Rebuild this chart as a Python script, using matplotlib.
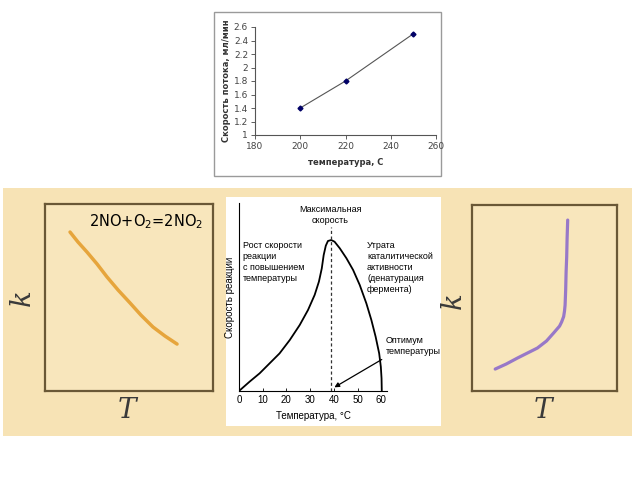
import numpy as np
import matplotlib
matplotlib.use('Agg')
import matplotlib.pyplot as plt
from matplotlib.patches import Rectangle

# Top chart: flow rate vs temperature
flow_temp = [200, 220, 250]
flow_rate = [1.4, 1.8, 2.5]
flow_xticks = [180, 200, 220, 240, 260]
flow_yticks = [1, 1.2, 1.4, 1.6, 1.8, 2, 2.2, 2.4, 2.6]
flow_yticklabels = ['1', '1.2', '1.4', '1.6', '1.8', '2', '2.2', '2.4', '2.6']

# Left schematic: k vs T (decreasing)
left_T = [0.149, 0.196, 0.250, 0.310, 0.369, 0.435, 0.506, 0.571, 0.643, 0.714, 0.786]
left_k = [0.850, 0.797, 0.743, 0.679, 0.610, 0.540, 0.471, 0.406, 0.342, 0.294, 0.251]

# Middle: enzyme reaction rate vs temperature
enz_t = [0, 4.5, 8.7, 12.9, 17.1, 21.4, 25.6, 29.1, 31.9, 33.7, 34.9, 35.7, 36.6,
         37.5, 38.9, 40.3, 42.5, 45.3, 48.1, 50.9, 53.7, 55.8, 57.6, 59.1, 59.8,
         60.1, 60.2]
enz_v = [0, 0.050, 0.094, 0.147, 0.200, 0.271, 0.351, 0.431, 0.511, 0.582, 0.652,
         0.723, 0.773, 0.798, 0.803, 0.794, 0.759, 0.706, 0.644, 0.564, 0.466,
         0.378, 0.289, 0.200, 0.129, 0.067, 0]
enz_xticks = [0, 10, 20, 30, 40, 50, 60]
t_opt = 38.6

# Right schematic: k vs T (sharp rise)
right_T = [0.160, 0.236, 0.313, 0.382, 0.451, 0.514, 0.563, 0.604, 0.618, 0.632,
           0.638, 0.642, 0.646, 0.649, 0.653, 0.656, 0.660]
right_k = [0.118, 0.145, 0.177, 0.204, 0.231, 0.269, 0.312, 0.349, 0.371, 0.400,
           0.430, 0.462, 0.543, 0.640, 0.720, 0.823, 0.919]

W, H = 640, 480
beige = '#f7e3b5'
brown = '#6a5836'
narrow = ['Liberation Sans Narrow', 'Liberation Sans', 'DejaVu Sans']


def rect(x0, y0, x1, y1):
    # pixel box -> figure fraction
    return [x0 / W, 1 - y1 / H, (x1 - x0) / W, (y1 - y0) / H]


fig = plt.figure(figsize=(6.4, 4.8), dpi=100)

# backgrounds (behind all axes)
fig.patches.append(Rectangle((3 / W, 1 - 436 / H), 629 / W, 248 / H,
                             transform=fig.transFigure, facecolor=beige,
                             edgecolor='none', zorder=-10))
fig.patches.append(Rectangle((214 / W, 1 - 176 / H), 227 / W, 164 / H,
                             transform=fig.transFigure, facecolor='white',
                             edgecolor='#9a9a9a', lw=1, zorder=-10))
fig.patches.append(Rectangle((226 / W, 1 - 426 / H), 215 / W, 229 / H,
                             transform=fig.transFigure, facecolor='white',
                             edgecolor='none', zorder=-9))

# top chart
ax = fig.add_axes(rect(255, 27, 436, 135))
ax.plot(flow_temp, flow_rate, color='#555555', lw=0.8)
ax.plot(flow_temp, flow_rate, 'D', color='#000066', ms=2.5)
ax.set_xlim(180, 260)
ax.set_ylim(1, 2.6)
ax.set_xticks(flow_xticks)
ax.set_yticks(flow_yticks)
ax.set_yticklabels(flow_yticklabels)
ax.tick_params(labelsize=6.5, length=3, width=0.6, colors='#444444', pad=2)
for s in ['top', 'right']:
    ax.spines[s].set_visible(False)
for s in ['left', 'bottom']:
    ax.spines[s].set_color('#555555')
    ax.spines[s].set_linewidth(0.8)
ax.set_facecolor('none')
ax.set_xlabel('температура, С', fontsize=6, fontweight='bold', color='#333333', labelpad=5)
ax.set_ylabel('Скорость потока, мл/мин', fontsize=6, fontweight='bold', color='#333333', labelpad=2)

# left schematic
axl = fig.add_axes(rect(45, 204, 213, 391))
axl.plot(left_T, left_k, color='#e6a53c', lw=2.5, solid_capstyle='round')
axl.set_xlim(0, 1)
axl.set_ylim(0, 1)
axl.set_xticks([])
axl.set_yticks([])
axl.set_facecolor('#f8e6bc')
for s in axl.spines.values():
    s.set_color(brown)
    s.set_linewidth(1.6)
fig.text(89 / W, 1 - 222 / H, '2NO+O$_2$=2NO$_2$', fontsize=10.5, va='center', ha='left')
fig.text(22 / W, 1 - 298 / H, 'k', fontsize=20, style='italic', family='DejaVu Serif',
         rotation=90, va='center', ha='center', color='#3a3a3a')
fig.text(127 / W, 1 - 410 / H, 'T', fontsize=20, style='italic', family='DejaVu Serif',
         va='center', ha='center', color='#3a3a3a')

# middle enzyme chart
axm = fig.add_axes(rect(239, 203, 387, 391))
axm.plot(enz_t, enz_v, color='black', lw=1.3)
axm.axvline(t_opt, ymax=0.872, color='#333333', lw=0.9, ls=(0, (2.5, 2)))
axm.set_xlim(0, 62.4)
axm.set_ylim(0, 1)
axm.set_xticks(enz_xticks)
axm.set_yticks([])
axm.tick_params(labelsize=7, length=2.5, width=0.6, direction='in', pad=3)
for lab in axm.get_xticklabels():
    lab.set_family(narrow)
for s in ['top', 'right']:
    axm.spines[s].set_visible(False)
axm.set_facecolor('none')
axm.set_xlabel('Температура, °C', fontsize=7, family=narrow, labelpad=4)
axm.set_ylabel('Скорость реакции', fontsize=7, family=narrow, labelpad=3)
axm.text(t_opt, 0.885, 'Максимальная\nскорость', fontsize=6.5, family=narrow,
         ha='center', va='bottom', linespacing=1.3)
axm.text(1.5, 0.80, 'Рост скорости\nреакции\nс повышением\nтемпературы', fontsize=6.5,
         family=narrow, ha='left', va='top', linespacing=1.3)
axm.text(54, 0.80, 'Утрата\nкаталитической\nактивности\n(денатурация\nфермента)',
         fontsize=6.5, family=narrow, ha='left', va='top', linespacing=1.3)
axm.text(62, 0.24, 'Оптимум\nтемпературы', fontsize=6.5, family=narrow,
         ha='left', va='center', linespacing=1.3, clip_on=False)
axm.annotate('', xy=(39.2, 0.012), xytext=(61.2, 0.175),
             arrowprops=dict(arrowstyle='-|>', color='black', lw=0.9,
                             mutation_scale=7), annotation_clip=False)

# right schematic
axr = fig.add_axes(rect(472, 205, 617, 391))
axr.plot(right_T, right_k, color='#9878c8', lw=2.3, solid_capstyle='round')
axr.set_xlim(0, 1)
axr.set_ylim(0, 1)
axr.set_xticks([])
axr.set_yticks([])
axr.set_facecolor('#f8e6bc')
for s in axr.spines.values():
    s.set_color(brown)
    s.set_linewidth(1.6)
fig.text(453 / W, 1 - 301 / H, 'k', fontsize=20, style='italic', family='DejaVu Serif',
         rotation=90, va='center', ha='center', color='#3a3a3a')
fig.text(543 / W, 1 - 410 / H, 'T', fontsize=20, style='italic', family='DejaVu Serif',
         va='center', ha='center', color='#3a3a3a')

fig.savefig('out.png', dpi=100)
